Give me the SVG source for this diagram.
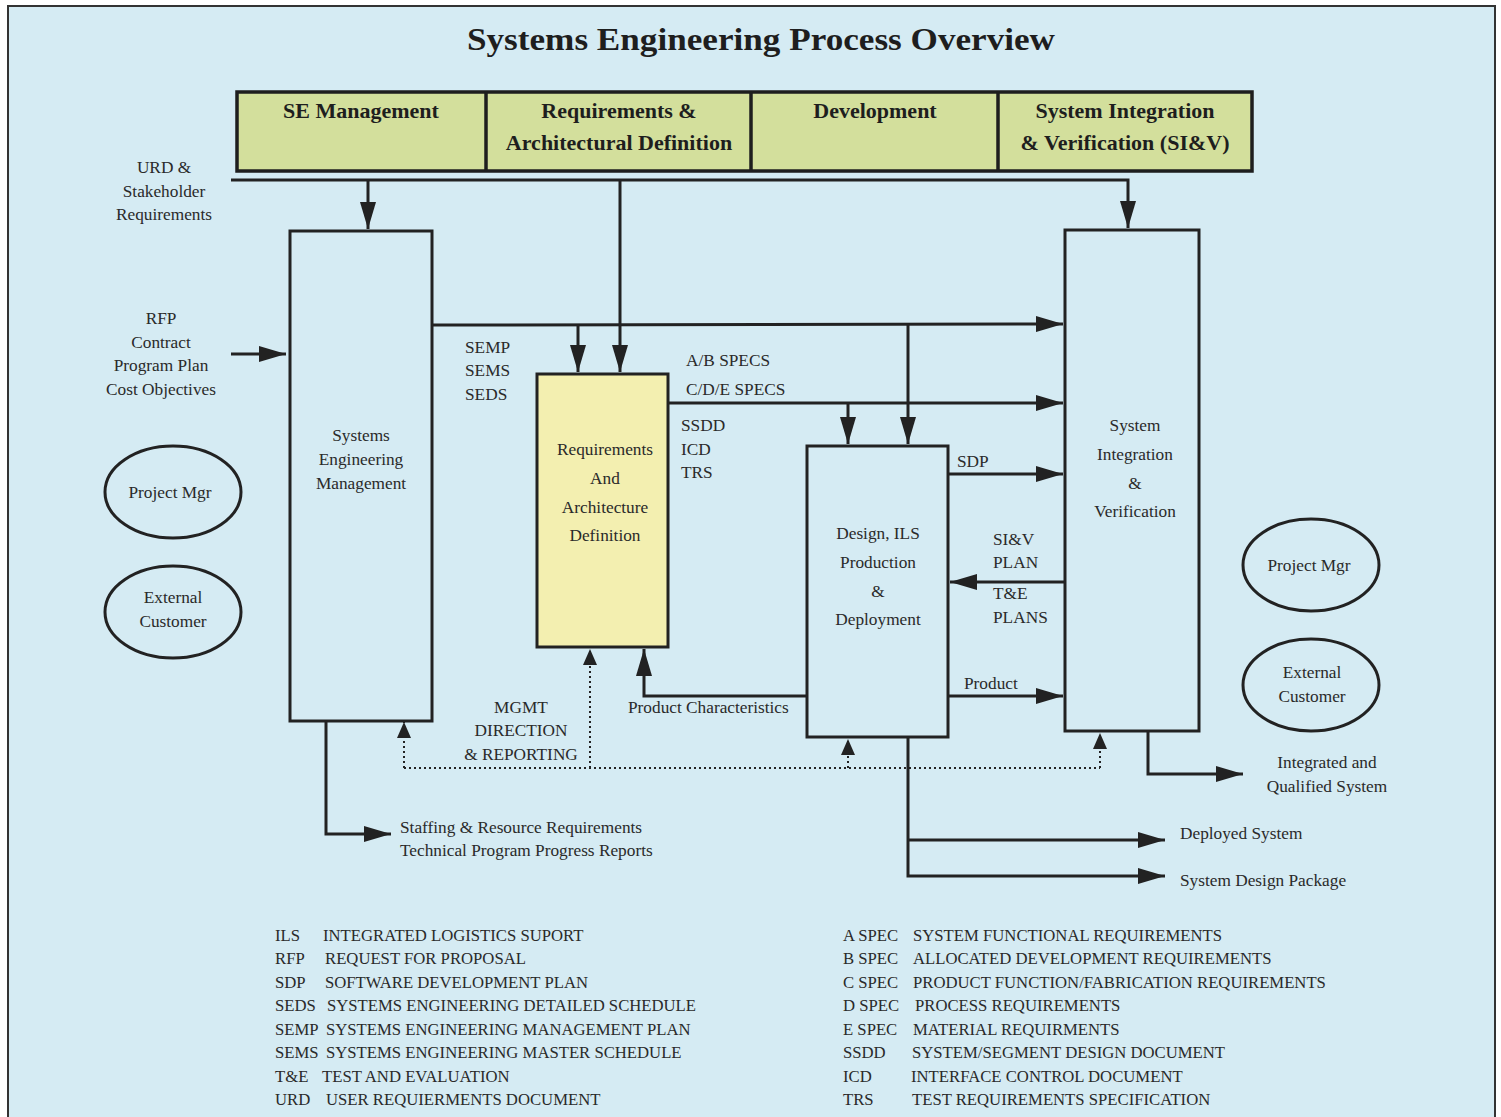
<svg xmlns="http://www.w3.org/2000/svg" width="1501" height="1117" viewBox="0 0 1501 1117">
<style>
.t{font-family:"Liberation Serif","Times New Roman",serif;font-size:17.3px;fill:#2a2a2a}
.m{text-anchor:middle}
.hb{font-family:"Liberation Serif","Times New Roman",serif;font-size:22px;font-weight:bold;fill:#1e1e1e;text-anchor:middle}
.lg{font-family:"Liberation Serif","Times New Roman",serif;font-size:16.7px;fill:#2a2a2a}
.box{fill:none;stroke:#222;stroke-width:3}
.ln{fill:none;stroke:#222;stroke-width:3}
.dot{fill:none;stroke:#222;stroke-width:2;stroke-dasharray:2 3}
.ell{fill:none;stroke:#222;stroke-width:3}
</style>
<defs>
<marker id="a" markerUnits="userSpaceOnUse" markerWidth="27" markerHeight="16" refX="27" refY="8" orient="auto" viewBox="0 0 27 16"><path d="M0,0 L27,8 L0,16 z" fill="#222"/></marker>
<marker id="s" markerUnits="userSpaceOnUse" markerWidth="16" markerHeight="14" refX="16" refY="7" orient="auto" viewBox="0 0 16 14"><path d="M0,0 L16,7 L0,14 z" fill="#222"/></marker>
</defs>
<rect x="8" y="6" width="1487" height="1120" fill="#d5ebf3" stroke="#333" stroke-width="2"/>
<text x="761" y="50" font-family="Liberation Serif,Times New Roman,serif" font-size="31" font-weight="bold" fill="#1e1e1e" text-anchor="middle" textLength="588" lengthAdjust="spacingAndGlyphs">Systems Engineering Process Overview</text>

<g id="header">
<rect x="237" y="92" width="1015" height="79" fill="#d3df9c" stroke="#1e1e1e" stroke-width="3.5"/>
<line x1="486" y1="92" x2="486" y2="171" stroke="#1e1e1e" stroke-width="3.5"/>
<line x1="751" y1="92" x2="751" y2="171" stroke="#1e1e1e" stroke-width="3.5"/>
<line x1="998" y1="92" x2="998" y2="171" stroke="#1e1e1e" stroke-width="3.5"/>
<text class="hb" x="361" y="118">SE Management</text>
<text class="hb" x="619" y="118">Requirements &amp;</text>
<text class="hb" x="619" y="150">Architectural Definition</text>
<text class="hb" x="875" y="118">Development</text>
<text class="hb" x="1125" y="118">System Integration</text>
<text class="hb" x="1125" y="150">&amp; Verification (SI&amp;V)</text>
</g>

<g id="sem">
<rect class="box" x="290" y="231" width="142" height="490"/>
<text class="t m" x="361" y="441">Systems</text>
<text class="t m" x="361" y="465">Engineering</text>
<text class="t m" x="361" y="489">Management</text>
</g>
<g id="rad">
<rect x="537" y="374" width="131" height="273" fill="#f3efb0" stroke="#222" stroke-width="3"/>
<text class="t m" x="605" y="455">Requirements</text>
<text class="t m" x="605" y="484">And</text>
<text class="t m" x="605" y="513">Architecture</text>
<text class="t m" x="605" y="541">Definition</text>
</g>
<g id="design">
<rect class="box" x="807" y="446" width="141" height="291"/>
<text class="t m" x="878" y="539">Design, ILS</text>
<text class="t m" x="878" y="568">Production</text>
<text class="t m" x="878" y="597">&amp;</text>
<text class="t m" x="878" y="625">Deployment</text>
</g>
<g id="siv">
<rect class="box" x="1065" y="230" width="134" height="501"/>
<text class="t m" x="1135" y="431">System</text>
<text class="t m" x="1135" y="460">Integration</text>
<text class="t m" x="1135" y="489">&amp;</text>
<text class="t m" x="1135" y="517">Verification</text>
</g>
<g id="pm-left">
<ellipse class="ell" cx="173" cy="492" rx="68" ry="46"/>
<text class="t m" x="170" y="498">Project Mgr</text>
</g>
<g id="ec-left">
<ellipse class="ell" cx="173" cy="612" rx="68" ry="46"/>
<text class="t m" x="173" y="603">External</text>
<text class="t m" x="173" y="627">Customer</text>
</g>
<g id="pm-right">
<ellipse class="ell" cx="1311" cy="565" rx="68" ry="46"/>
<text class="t m" x="1309" y="571">Project Mgr</text>
</g>
<g id="ec-right">
<ellipse class="ell" cx="1311" cy="685" rx="68" ry="46"/>
<text class="t m" x="1312" y="678">External</text>
<text class="t m" x="1312" y="702">Customer</text>
</g>

<g id="connectors">
<polyline class="ln" points="231,180 1128,180 1128,228" marker-end="url(#a)"/>
<line class="ln" x1="368" y1="180" x2="368" y2="229" marker-end="url(#a)"/>
<line class="ln" x1="620" y1="180" x2="620" y2="372" marker-end="url(#a)"/>
<line class="ln" x1="231" y1="354" x2="286" y2="354" marker-end="url(#a)"/>
<line class="ln" x1="432" y1="325" x2="1063" y2="324" marker-end="url(#a)"/>
<line class="ln" x1="578" y1="325" x2="578" y2="372" marker-end="url(#a)"/>
<line class="ln" x1="908" y1="325" x2="908" y2="444" marker-end="url(#a)"/>
<line class="ln" x1="668" y1="403" x2="1063" y2="403" marker-end="url(#a)"/>
<line class="ln" x1="848" y1="403" x2="848" y2="444" marker-end="url(#a)"/>
<line class="ln" x1="948" y1="474" x2="1063" y2="474" marker-end="url(#a)"/>
<line class="ln" x1="1065" y1="582" x2="950" y2="582" marker-end="url(#a)"/>
<line class="ln" x1="948" y1="696" x2="1063" y2="696" marker-end="url(#a)"/>
<polyline class="ln" points="807,696 644,696 644,649" marker-end="url(#a)"/>
<polyline class="dot" points="404,768 1100,768"/>
<line class="dot" x1="404" y1="768" x2="404" y2="722" marker-end="url(#s)"/>
<line class="dot" x1="590" y1="768" x2="590" y2="649" marker-end="url(#s)"/>
<line class="dot" x1="848" y1="768" x2="848" y2="739" marker-end="url(#s)"/>
<line class="dot" x1="1100" y1="768" x2="1100" y2="733" marker-end="url(#s)"/>
<polyline class="ln" points="326,721 326,834 391,834" marker-end="url(#a)"/>
<polyline class="ln" points="908,737 908,876 1165,876" marker-end="url(#a)"/>
<line class="ln" x1="908" y1="840" x2="1165" y2="840" marker-end="url(#a)"/>
<polyline class="ln" points="1148,731 1148,774 1243,774" marker-end="url(#a)"/>
</g>

<g id="labels">
<text class="t m" x="164" y="173">URD &amp;</text>
<text class="t m" x="164" y="197">Stakeholder</text>
<text class="t m" x="164" y="220">Requirements</text>
<text class="t m" x="161" y="324">RFP</text>
<text class="t m" x="161" y="348">Contract</text>
<text class="t m" x="161" y="371">Program Plan</text>
<text class="t m" x="161" y="395">Cost Objectives</text>
<text class="t" x="465" y="353">SEMP</text>
<text class="t" x="465" y="376">SEMS</text>
<text class="t" x="465" y="400">SEDS</text>
<text class="t" x="686" y="366">A/B SPECS</text>
<text class="t" x="686" y="395">C/D/E SPECS</text>
<text class="t" x="681" y="431">SSDD</text>
<text class="t" x="681" y="455">ICD</text>
<text class="t" x="681" y="478">TRS</text>
<text class="t" x="957" y="467">SDP</text>
<text class="t" x="993" y="545">SI&amp;V</text>
<text class="t" x="993" y="568">PLAN</text>
<text class="t" x="993" y="599">T&amp;E</text>
<text class="t" x="993" y="623">PLANS</text>
<text class="t" x="964" y="689">Product</text>
<text class="t" x="628" y="713">Product Characteristics</text>
<text class="t m" x="521" y="713">MGMT</text>
<text class="t m" x="521" y="736">DIRECTION</text>
<text class="t m" x="521" y="760">&amp; REPORTING</text>
<text class="t" x="400" y="833">Staffing &amp; Resource Requirements</text>
<text class="t" x="400" y="856">Technical Program Progress Reports</text>
<text class="t m" x="1327" y="768">Integrated and</text>
<text class="t m" x="1327" y="792">Qualified System</text>
<text class="t" x="1180" y="839">Deployed System</text>
<text class="t" x="1180" y="886">System Design Package</text>
</g>

<g id="legend">
<text class="lg" x="275" y="941">ILS</text><text class="lg" x="323" y="941">INTEGRATED LOGISTICS SUPORT</text>
<text class="lg" x="275" y="964">RFP</text><text class="lg" x="325" y="964">REQUEST FOR PROPOSAL</text>
<text class="lg" x="275" y="988">SDP</text><text class="lg" x="325" y="988">SOFTWARE DEVELOPMENT PLAN</text>
<text class="lg" x="275" y="1011">SEDS</text><text class="lg" x="327" y="1011">SYSTEMS ENGINEERING DETAILED SCHEDULE</text>
<text class="lg" x="275" y="1035">SEMP</text><text class="lg" x="326" y="1035">SYSTEMS ENGINEERING MANAGEMENT PLAN</text>
<text class="lg" x="275" y="1058">SEMS</text><text class="lg" x="326" y="1058">SYSTEMS ENGINEERING MASTER SCHEDULE</text>
<text class="lg" x="275" y="1082">T&amp;E</text><text class="lg" x="322" y="1082">TEST AND EVALUATION</text>
<text class="lg" x="275" y="1105">URD</text><text class="lg" x="326" y="1105">USER REQUIERMENTS DOCUMENT</text>
<text class="lg" x="843" y="941">A SPEC</text><text class="lg" x="913" y="941">SYSTEM FUNCTIONAL REQUIREMENTS</text>
<text class="lg" x="843" y="964">B SPEC</text><text class="lg" x="913" y="964">ALLOCATED DEVELOPMENT REQUIREMENTS</text>
<text class="lg" x="843" y="988">C SPEC</text><text class="lg" x="913" y="988">PRODUCT FUNCTION/FABRICATION REQUIREMENTS</text>
<text class="lg" x="843" y="1011">D SPEC</text><text class="lg" x="915" y="1011">PROCESS REQUIREMENTS</text>
<text class="lg" x="843" y="1035">E SPEC</text><text class="lg" x="913" y="1035">MATERIAL REQUIRMENTS</text>
<text class="lg" x="843" y="1058">SSDD</text><text class="lg" x="912" y="1058">SYSTEM/SEGMENT DESIGN DOCUMENT</text>
<text class="lg" x="843" y="1082">ICD</text><text class="lg" x="911" y="1082">INTERFACE CONTROL DOCUMENT</text>
<text class="lg" x="843" y="1105">TRS</text><text class="lg" x="912" y="1105">TEST REQUIREMENTS SPECIFICATION</text>
</g>
</svg>
